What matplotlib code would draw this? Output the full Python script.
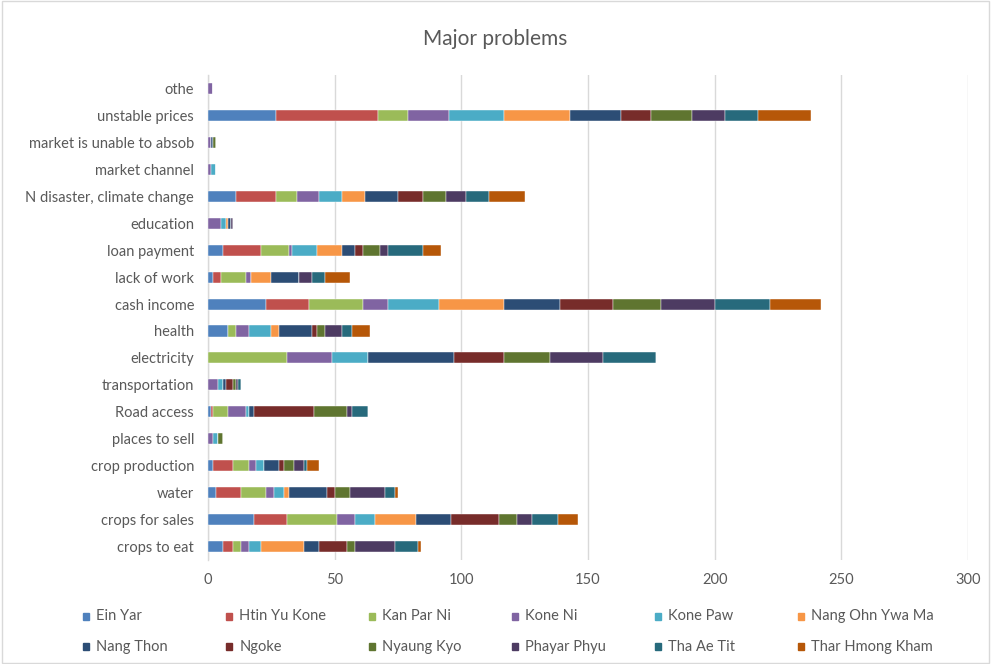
import matplotlib
matplotlib.use("Agg")
import matplotlib.pyplot as plt
from matplotlib.patches import Rectangle
import numpy as np

plt.rcParams['font.family'] = ['Lato', 'DejaVu Sans']

# problem categories, listed bottom to top
categories = ["crops to eat", "crops for sales", "water", "crop production",
              "places to sell", "Road access", "transportation", "electricity",
              "health", "cash income", "lack of work", "loan payment",
              "education", "N disaster, climate change", "market channel",
              "market is unable to absob", "unstable prices", "othe"]

# responses per village, same order as categories
ein_yar =         [6, 18, 3, 2, 0, 1, 0, 0, 8, 23, 2, 6, 0, 11, 0, 0, 27, 0]
htin_yu_kone =    [4, 13, 10, 8, 0, 1, 0, 0, 0, 17, 3, 15, 0, 16, 0, 0, 40, 0]
kan_par_ni =      [3, 20, 10, 6, 0, 6, 0, 31, 3, 21, 10, 11, 0, 8, 0, 0, 12, 0]
kone_ni =         [3, 7, 3, 3, 2, 7, 4, 18, 5, 10, 2, 1, 5, 9, 1, 1, 16, 2]
kone_paw =        [5, 8, 4, 3, 2, 1, 2, 14, 9, 20, 0, 10, 2, 9, 2, 0, 22, 0]
nang_ohn_ywa_ma = [17, 16, 2, 0, 0, 0, 0, 0, 3, 26, 8, 10, 1, 9, 0, 0, 26, 0]
nang_thon =       [6, 14, 15, 6, 0, 2, 1, 34, 13, 22, 11, 5, 1, 13, 0, 1, 20, 0]
ngoke =           [11, 19, 3, 2, 0, 24, 3, 20, 2, 21, 0, 3, 0, 10, 0, 0, 12, 0]
nyaung_kyo =      [3, 7, 6, 4, 2, 13, 1, 18, 3, 19, 0, 7, 0, 9, 0, 1, 16, 0]
phayar_phyu =     [16, 6, 14, 4, 0, 2, 1, 21, 7, 21, 5, 3, 1, 8, 0, 0, 13, 0]
tha_ae_tit =      [9, 10, 4, 1, 0, 6, 1, 21, 4, 22, 5, 14, 0, 9, 0, 0, 13, 0]
thar_hmong_kham = [1, 8, 1, 5, 0, 0, 0, 0, 7, 20, 10, 7, 0, 14, 0, 0, 21, 0]

series_names = ["Ein Yar", "Htin Yu Kone", "Kan Par Ni", "Kone Ni", "Kone Paw",
                "Nang Ohn Ywa Ma", "Nang Thon", "Ngoke", "Nyaung Kyo",
                "Phayar Phyu", "Tha Ae Tit", "Thar Hmong Kham"]
series_values = [ein_yar, htin_yu_kone, kan_par_ni, kone_ni, kone_paw,
                 nang_ohn_ywa_ma, nang_thon, ngoke, nyaung_kyo, phayar_phyu,
                 tha_ae_tit, thar_hmong_kham]
colors = ["#4F81BD", "#C0504D", "#9BBB59", "#8064A2", "#4BACC6", "#F79646",
          "#2C4D75", "#772C2A", "#5F7530", "#4D3B62", "#276A7C", "#B65708"]

text_color = "#595959"
grid_color = "#D9D9D9"

fig = plt.figure(figsize=(9.91, 6.64), dpi=100)
ax = fig.add_axes([0.2099, 0.1566, 0.7669, 0.7304])

y = np.arange(len(categories))
left = np.zeros(len(categories))
for name, vals, col in zip(series_names, series_values, colors):
    vals = np.array(vals, dtype=float)
    ax.barh(y, vals, left=left, height=0.41, color=col, label=name,
            edgecolor="white", linewidth=0.3, zorder=3)
    left += vals

ax.set_xlim(0, 300)
ax.set_ylim(-0.5, len(categories) - 0.5)
ax.set_xticks(np.arange(0, 301, 50))
ax.set_yticks(y)
ax.set_yticklabels(categories)
ax.tick_params(axis="both", length=0, colors=text_color, labelsize=10.5)
ax.tick_params(axis="y", pad=10)
ax.tick_params(axis="x", pad=9)
ax.grid(axis="x", color=grid_color, linewidth=1.0, zorder=0)
for s in ["top", "right", "bottom"]:
    ax.spines[s].set_visible(False)
ax.spines["left"].set_color(grid_color)
ax.spines["left"].set_linewidth(1.0)

fig.text(0.5, 0.942, "Major problems", ha="center", va="center",
         fontsize=15, color=text_color)

# legend laid out row by row, six entries per row
col_x = [0.0868, 0.2311, 0.3754, 0.5197, 0.6640, 0.8083]
row_y = [0.074, 0.028]
for i, (name, col) in enumerate(zip(series_names, colors)):
    cx = col_x[i % 6]
    cy = row_y[i // 6]
    fig.add_artist(Rectangle((cx - 0.0035, cy - 0.0075), 0.007, 0.0105,
                             transform=fig.transFigure, color=col))
    fig.text(cx + 0.0105, cy - 0.002, name, ha="left", va="center",
             fontsize=10.5, color=text_color)

# chart border
fig.add_artist(Rectangle((0.002, 0.002), 0.996, 0.996, transform=fig.transFigure,
                         fill=False, edgecolor=grid_color, linewidth=1.0))

fig.savefig("out.png", dpi=100)
